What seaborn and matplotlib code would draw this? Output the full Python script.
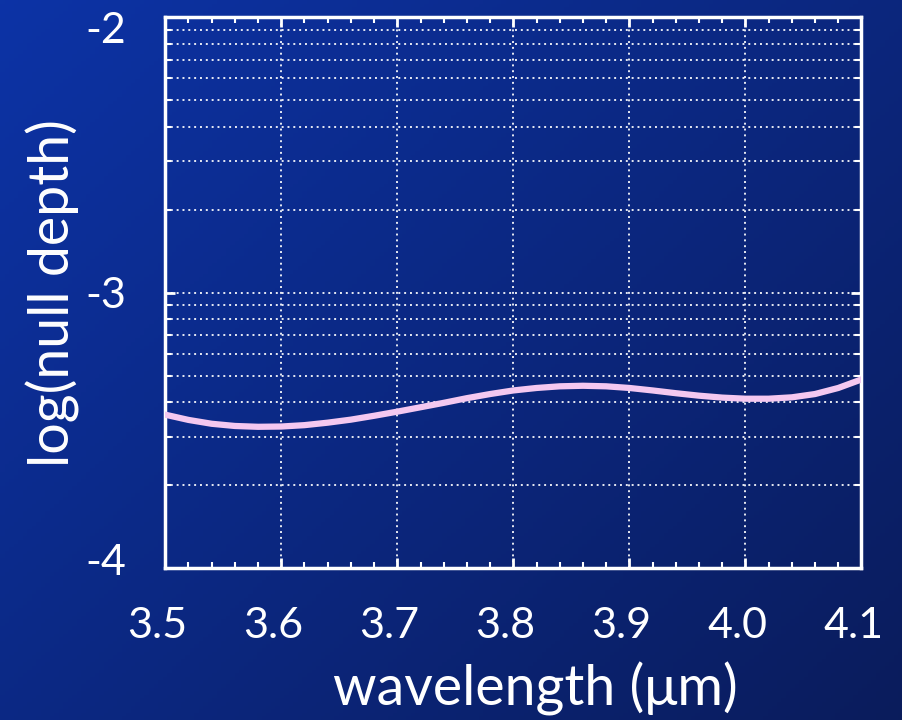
import numpy as np
import pandas as pd
import matplotlib
matplotlib.use("Agg")
import matplotlib.pyplot as plt
from matplotlib.ticker import FixedLocator, MultipleLocator, LogLocator, NullFormatter
from matplotlib.transforms import ScaledTranslation
import seaborn as sns

# wavelength (um) and log10 of the null depth
wavelength = [3.50, 3.52, 3.54, 3.56, 3.58, 3.60, 3.62, 3.64, 3.66, 3.68,
              3.70, 3.72, 3.74, 3.76, 3.78, 3.80, 3.82, 3.84, 3.86, 3.88,
              3.90, 3.92, 3.94, 3.96, 3.98, 4.00, 4.02, 4.04, 4.06, 4.08, 4.10]
log_null = [-3.443, -3.462, -3.476, -3.484, -3.487, -3.486, -3.481, -3.472,
            -3.461, -3.447, -3.432, -3.416, -3.400, -3.383, -3.368, -3.355,
            -3.346, -3.340, -3.338, -3.340, -3.346, -3.355, -3.365, -3.374,
            -3.381, -3.385, -3.385, -3.380, -3.368, -3.346, -3.315]
x_ticks = [3.5, 3.6, 3.7, 3.8, 3.9, 4.0, 4.1]
x_labels = ["3.5", "3.6", "3.7", "3.8", "3.9", "4.0", "4.1"]
y_exponents = [-4, -3, -2]

sns.set_theme(style="ticks")
plt.rcParams["font.family"] = ["Lato", "DejaVu Sans"]

df = pd.DataFrame({"wavelength": wavelength,
                   "null": [10.0 ** v for v in log_null]})

fig = plt.figure(figsize=(9.03, 7.2), dpi=100)

# gradient backdrop
bg = fig.add_axes([0, 0, 1, 1], zorder=-1)
gx, gy = np.meshgrid(np.linspace(0, 1, 200), np.linspace(0, 1, 200))
t = np.clip(0.55 * gx + 0.45 * gy, 0, 1)
top_left = np.array([0.05, 0.20, 0.65])
bot_right = np.array([0.04, 0.11, 0.36])
img = top_left[None, None, :] * (1 - t[..., None]) + bot_right[None, None, :] * t[..., None]
bg.imshow(img, aspect="auto", extent=[0, 1, 0, 1], origin="upper")
bg.axis("off")

ax = fig.add_axes([0.183, 0.211, 0.771, 0.765])
ax.set_facecolor("none")

sns.lineplot(data=df, x="wavelength", y="null", ax=ax, color="#f4c8f0",
             linewidth=4.5, zorder=5)

ax.set_yscale("log")
ax.set_xlim(3.5, 4.1)
ax.set_ylim(1e-4, 1e-2)

ax.xaxis.set_major_locator(FixedLocator(x_ticks))
ax.set_xticklabels(x_labels)
ax.xaxis.set_minor_locator(MultipleLocator(0.02))
ax.yaxis.set_major_locator(FixedLocator([10.0 ** e for e in y_exponents]))
ax.yaxis.set_minor_locator(LogLocator(base=10, subs=np.arange(2, 10)))
ax.yaxis.set_minor_formatter(NullFormatter())
ax.set_yticklabels([str(e) for e in y_exponents])

ax.grid(which="both", axis="y", color="white", linestyle=(0, (1, 2)),
        linewidth=1.4, alpha=0.9)
ax.grid(which="major", axis="x", color="white", linestyle=(0, (1, 2)),
        linewidth=1.4, alpha=0.9)

for side in ["top", "bottom", "left", "right"]:
    ax.spines[side].set_color("white")
    ax.spines[side].set_linewidth(2.5)

ax.tick_params(which="both", direction="in", colors="white", top=True, right=True)
ax.tick_params(which="major", length=7, width=2)
ax.tick_params(which="minor", length=4, width=1.5)
ax.tick_params(axis="x", labelsize=31, pad=28)
ax.tick_params(axis="y", labelsize=31, pad=28)
for lab in ax.get_xticklabels() + ax.get_yticklabels():
    lab.set_color("white")

# x labels sit slightly left of their ticks
for lab in ax.get_xticklabels():
    lab.set_transform(lab.get_transform()
                      + ScaledTranslation(-8 / 100, 0, fig.dpi_scale_trans))

# end labels sit a little inside the frame
ylabels = ax.get_yticklabels()
ylabels[0].set_transform(ylabels[0].get_transform()
                         + ScaledTranslation(0, 9 / 100, fig.dpi_scale_trans))
ylabels[2].set_transform(ylabels[2].get_transform()
                         + ScaledTranslation(0, -10 / 100, fig.dpi_scale_trans))

ax.set_xlabel("wavelength (μm)", fontsize=40, color="white", labelpad=12)
ax.xaxis.label.set_x(0.532)
ax.set_ylabel("log(null depth)", fontsize=40, color="white", labelpad=4)

fig.savefig("out.png", dpi=100, facecolor="#0a2278")
